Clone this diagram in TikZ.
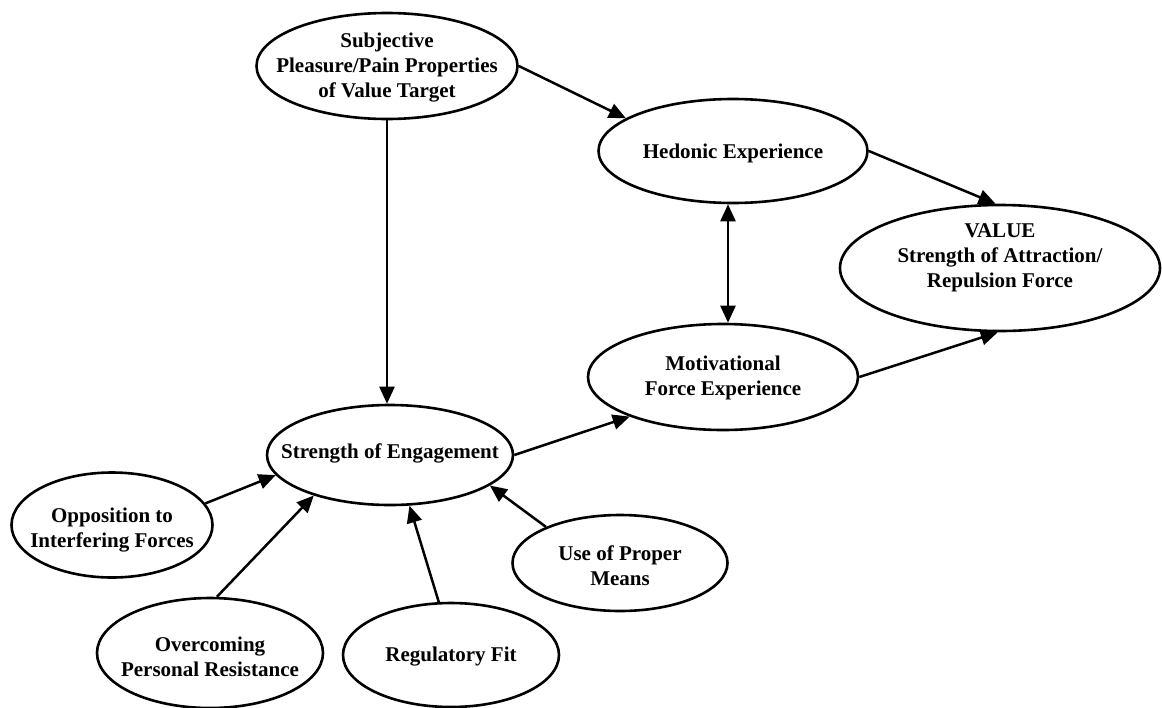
\documentclass[tikz,border=0pt]{standalone}
\usepackage{fontspec}
\setmainfont{Liberation Serif}
\usetikzlibrary{shapes.geometric,arrows.meta}
\begin{document}
\begin{tikzpicture}[x=1pt,y=-1pt,
  ell/.style={ellipse, draw, line width=2.6pt, inner sep=0pt},
  lbl/.style={font=\fontsize{21}{25}\selectfont\bfseries, align=center, inner sep=0pt},
  arr/.style={line width=2.5pt, -{Triangle[length=17pt,width=15pt]}},
  dbl/.style={line width=2.5pt, {Triangle[length=17pt,width=15pt]}-{Triangle[length=17pt,width=15pt]}}]
\fill[white] (0,0) rectangle (1162,707);
\useasboundingbox (0,0) rectangle (1162,707);

% ellipses
\node[ell, minimum width=261pt, minimum height=106pt] (subj) at (387,66) {};
\node[ell, minimum width=269pt, minimum height=104pt] (hed) at (733,151) {};
\node[ell, minimum width=320pt, minimum height=126pt] (val) at (1000,268) {};
\node[ell, minimum width=270pt, minimum height=106pt] (mot) at (723,377) {};
\node[ell, minimum width=246pt, minimum height=100pt] (eng) at (390,455) {};
\node[ell, minimum width=201pt, minimum height=105pt] (opp) at (112,525) {};
\node[ell, minimum width=226pt, minimum height=110pt] (over) at (210,653) {};
\node[ell, minimum width=216pt, minimum height=104pt] (reg) at (451,655) {};
\node[ell, minimum width=215pt, minimum height=96pt] (use) at (620,563) {};

% labels
\node[lbl] (subjT) at (387,68) {Subjective\\Pleasure/Pain Properties\\of Value Target};
\node[lbl] (hedT) at (733,153) {Hedonic Experience};
\node[lbl] (valT) at (1000,258) {VALUE\\Strength of Attraction/\\Repulsion Force};
\node[lbl] (motT) at (723,378) {Motivational\\Force Experience};
\node[lbl] (engT) at (390,453) {Strength of Engagement};
\node[lbl] (oppT) at (112,530) {Opposition to\\Interfering Forces};
\node[lbl] (overT) at (210,657) {Overcoming\\Personal Resistance};
\node[lbl] (regT) at (451,657) {Regulatory Fit};
\node[lbl] (useT) at (620,566) {Use of Proper\\Means};

% connectors
\draw[arr] (subj.east) -- (hed.163);
\draw[arr] (subj.south) -- (subj.south |- eng.north);
\draw[dbl] ([xshift=-5pt]hed.south) -- ([xshift=5pt]mot.north);
\draw[arr] (hed.east) -- (val.94);
\draw[arr] (mot.east) -- (val.-92);
\draw[arr] (eng.east) -- (mot.203);
\draw[arr] (opp.13) -- (eng.190);
\draw[arr] (over.83) -- (eng.208);
\draw[arr] (reg.103) -- (eng.-69);
\draw[arr] (use.154) -- (eng.-17);
\end{tikzpicture}
\end{document}
